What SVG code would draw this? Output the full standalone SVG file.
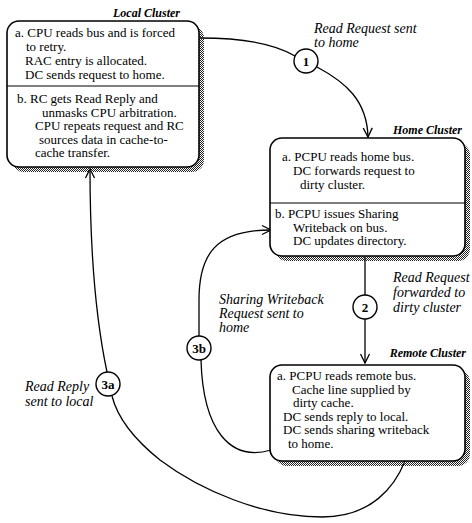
<svg xmlns="http://www.w3.org/2000/svg" width="472" height="523" viewBox="0 0 472 523">
<defs>
<pattern id="dots" width="2" height="2" patternUnits="userSpaceOnUse">
<rect x="0" y="0" width="1" height="1" fill="#222"/>
<rect x="1" y="1" width="1" height="1" fill="#222"/>
</pattern>
<marker id="arr" markerWidth="12" markerHeight="12" refX="10" refY="6" orient="auto" markerUnits="userSpaceOnUse">
<path d="M1,1.5 L10,6 L1,10.5" fill="none" stroke="#000" stroke-width="1.3"/>
</marker>
</defs>
<style>
.box{fill:#fff;stroke:#000;stroke-width:1.6}
.shadow{fill:url(#dots)}
.div{stroke:#000;stroke-width:1.2}
.t{font-family:"Liberation Serif",serif;font-size:13px;fill:#000}
.lab{font-family:"Liberation Serif",serif;font-size:12px;font-weight:bold;font-style:italic;fill:#000}
.el{font-family:"Liberation Serif",serif;font-size:14px;font-style:italic;fill:#000}
.num{font-family:"Liberation Serif",serif;font-size:13px;font-weight:bold;fill:#000;text-anchor:middle}
.c{fill:#fff;stroke:#000;stroke-width:1.4}
.e{fill:none;stroke:#000;stroke-width:1.3}
</style>
<rect width="472" height="523" fill="#fff"/>

<g id="connectors">
<path class="e" d="M200,38 C240,38 275,44 295,56"/>
<path class="e" d="M317,67 C345,82 367,100 368,137" marker-end="url(#arr)"/>
<path class="e" d="M365,257 L365,295"/>
<path class="e" d="M365,319 L365,363" marker-end="url(#arr)"/>
<path class="e" d="M405,461 C395,486 372,517 322,517 C262,517 200,490 160,460 C135,440 118,420 112,396"/>
<path class="e" d="M107,372 C96,320 90,260 90,169" marker-end="url(#arr)"/>
<path class="e" d="M271,450 C230,462 203,430 201,360"/>
<path class="e" d="M199,336 L199,300 C199,255 215,230 271,230" marker-end="url(#arr)"/>
</g>

<g id="local">
<rect class="shadow" x="12" y="26" width="192" height="146" rx="12"/>
<rect class="box" x="7" y="21" width="192" height="146" rx="12"/>
<line class="div" x1="7" y1="86" x2="199" y2="86"/>
<text class="lab" x="180" y="17" text-anchor="end">Local Cluster</text>
<text class="t" x="15" y="37">a. CPU reads bus and is forced</text>
<text class="t" x="26" y="51">to retry.</text>
<text class="t" x="25" y="65">RAC entry is allocated.</text>
<text class="t" x="25" y="79">DC sends request to home.</text>
<text class="t" x="17" y="103">b. RC gets Read Reply and</text>
<text class="t" x="42" y="116.5">unmasks CPU arbitration.</text>
<text class="t" x="35" y="130">CPU repeats request and RC</text>
<text class="t" x="39" y="143.5">sources data in cache-to-</text>
<text class="t" x="35" y="157">cache transfer.</text>
</g>

<g id="home">
<rect class="shadow" x="275" y="143" width="195" height="118" rx="12"/>
<rect class="box" x="270" y="138" width="195" height="118" rx="12"/>
<line class="div" x1="270" y1="203" x2="465" y2="203"/>
<text class="lab" x="462" y="134" text-anchor="end">Home Cluster</text>
<text class="t" x="282" y="161">a. PCPU reads home bus.</text>
<text class="t" x="293" y="175">DC forwards request to</text>
<text class="t" x="300" y="189">dirty cluster.</text>
<text class="t" x="275" y="218">b. PCPU issues Sharing</text>
<text class="t" x="293" y="231.5">Writeback on bus.</text>
<text class="t" x="293" y="245">DC updates directory.</text>
</g>

<g id="remote">
<rect class="shadow" x="275" y="370" width="195" height="96" rx="12"/>
<rect class="box" x="270" y="365" width="195" height="96" rx="12"/>
<text class="lab" x="466" y="357" text-anchor="end">Remote Cluster</text>
<text class="t" x="277" y="380">a. PCPU reads remote bus.</text>
<text class="t" x="292" y="393.5">Cache line supplied by</text>
<text class="t" x="293" y="407">dirty cache.</text>
<text class="t" x="283" y="420.5">DC sends reply to local.</text>
<text class="t" x="283" y="434">DC sends sharing writeback</text>
<text class="t" x="288" y="447.5">to home.</text>
</g>

<g id="n1">
<circle class="c" cx="306" cy="61" r="12"/>
<text class="num" x="306" y="66">1</text>
</g>
<g id="n2">
<circle class="c" cx="365" cy="307" r="12"/>
<text class="num" x="365" y="312">2</text>
</g>
<g id="n3a">
<circle class="c" cx="108" cy="384" r="12"/>
<text class="num" x="108" y="389">3a</text>
</g>
<g id="n3b">
<circle class="c" cx="199" cy="348" r="12"/>
<text class="num" x="199" y="353">3b</text>
</g>

<g id="labels">
<text class="el" x="314" y="33">Read Request sent</text>
<text class="el" x="314" y="47">to home</text>
<text class="el" x="393" y="282">Read Request</text>
<text class="el" x="393" y="297">forwarded to</text>
<text class="el" x="393" y="312">dirty cluster</text>
<text class="el" x="219" y="304">Sharing Writeback</text>
<text class="el" x="219" y="318">Request sent to</text>
<text class="el" x="219" y="332">home</text>
<text class="el" x="25" y="391">Read Reply</text>
<text class="el" x="25" y="406">sent to local</text>
</g>
</svg>
